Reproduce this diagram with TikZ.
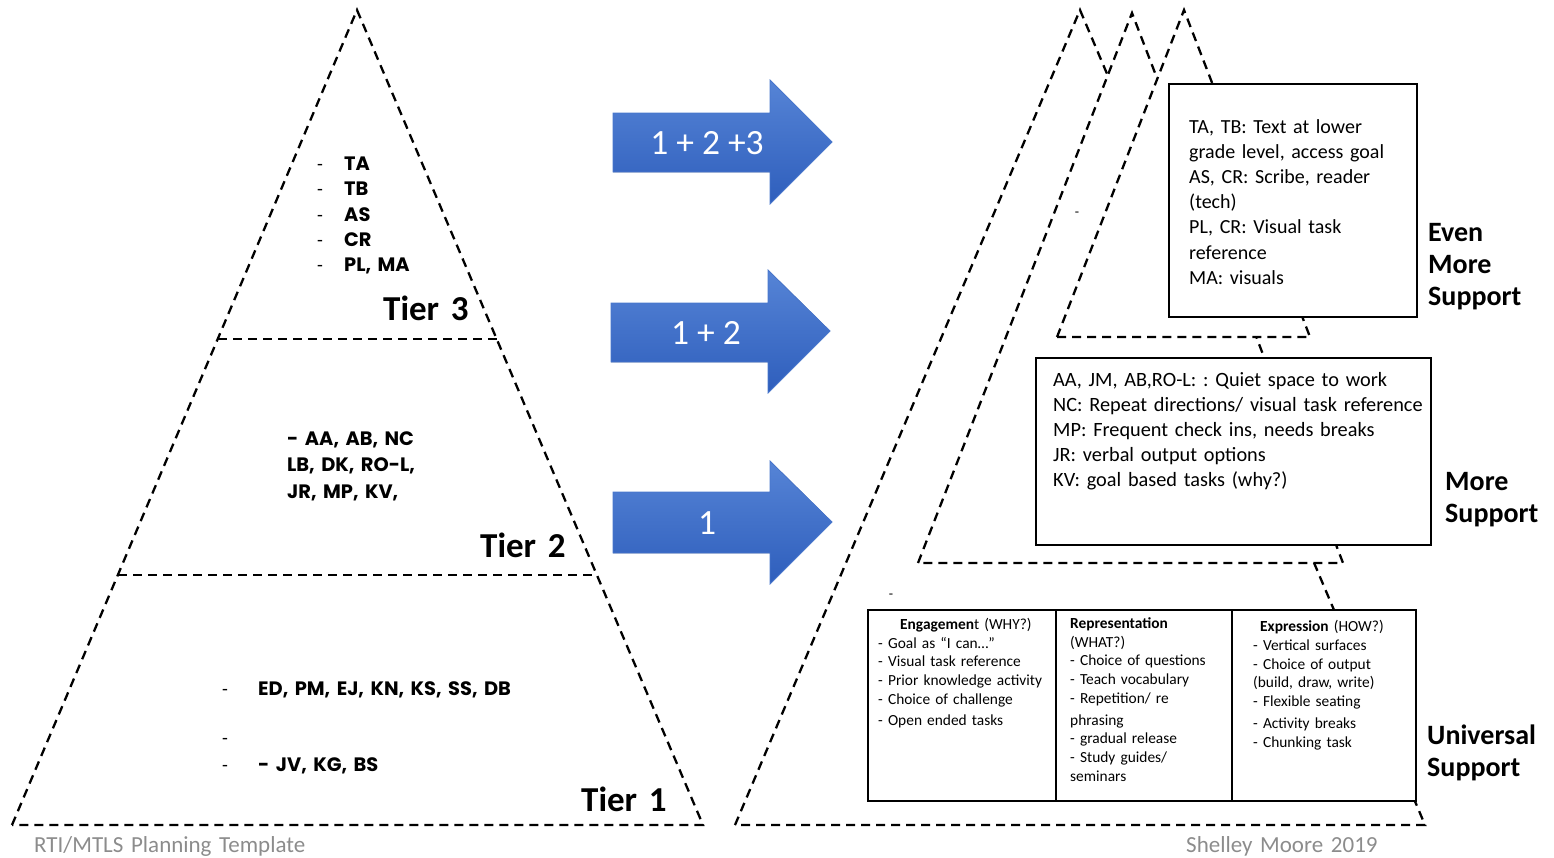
\documentclass[tikz,border=0pt]{standalone}
\usepackage{fontspec}
\setmainfont{Carlito}
\newfontfamily\namefont{Poppins}
\definecolor{arrowtop}{RGB}{86,132,214}
\definecolor{arrowbot}{RGB}{46,94,188}
\definecolor{arrowedge}{RGB}{72,118,204}
\definecolor{footgray}{RGB}{140,140,140}

\begin{document}
\frenchspacing
\begin{tikzpicture}[x=1pt,y=-1pt,
  dashline/.style={line width=2.3pt, dash pattern=on 9pt off 6pt},
  tri/.style={dashline, fill=white},
  panel/.style={draw, line width=2.4pt, fill=white},
  blockarrow/.style={top color=arrowtop, bottom color=arrowbot, draw=arrowedge, line width=0.8pt},
  arrowtext/.style={text=white, inner sep=0, font=\fontsize{35.5}{40}\selectfont},
  txt/.style={anchor=base west, inner sep=0, text width=#1, align=left},
  txt/.default=400pt,
  names/.style={txt=300pt, font=\namefont\bfseries\fontsize{19.4}{25.3}\selectfont},
  bullets/.style={txt=20pt, font=\fontsize{19}{25.3}\selectfont},
  tierlabel/.style={txt=120pt, font=\bfseries\fontsize{35}{40}\selectfont},
  sidelabel/.style={txt=140pt, font=\bfseries\fontsize{28}{32}\selectfont},
  boxtext/.style={txt=400pt, font=\fontsize{20}{25.2}\selectfont},
  celltext/.style={txt=190pt, font=\fontsize{15.4}{18.7}\selectfont},
  foot/.style={txt=350pt, text=footgray, font=\fontsize{23}{26}\selectfont},
]
\useasboundingbox (0,0) rectangle (1554,857);

% ---------- left pyramid: three tiers ----------
\coordinate (LA) at (357,10);
\coordinate (LL) at (12,825);
\coordinate (LR) at (703,825);
\draw[tri] (LL) -- (LA) -- (LR) -- cycle;
\draw[dashline] (218,339) -- (497,339);
\draw[dashline] (118,575) -- (597,575);

% tier 3 members
\node[bullets] (t3d) at (317,170.5) {-\\-\\-\\-\\-};
\node[names] (t3n) at (344,170.5) {TA\\TB\\AS\\CR\\PL, MA};
\node[tierlabel] (t3) at (383,320) {Tier 3};

% tier 2 members
\node[names, font=\namefont\bfseries\fontsize{19.4}{26.5}\selectfont] (t2n) at (287,445) {- AA, AB, NC\\LB, DK, RO-L,\\JR, MP, KV,};
\node[tierlabel] (t2) at (480,557) {Tier 2};

% tier 1 members
\node[bullets] (t1d1) at (222,695) {-};
\node[names] (t1n1) at (258,695) {ED, PM, EJ, KN, KS, SS, DB};
\node[bullets] (t1d2) at (222,744) {-};
\node[bullets] (t1d3) at (222,771) {-};
\node[names] (t1n2) at (258,771) {- JV, KG, BS};
\node[tierlabel] (t1) at (581,811) {Tier 1};

% ---------- block arrows ----------
\filldraw[blockarrow] (613,113) -- (770,113) -- (770,80) -- (832,142) -- (770,204) -- (770,172) -- (613,172) -- cycle;
\node[arrowtext] (a3) at (707,143) {1 + 2 +3};
\filldraw[blockarrow] (611,303) -- (768,303) -- (768,270) -- (830,331) -- (768,393) -- (768,362) -- (611,362) -- cycle;
\node[arrowtext] (a2) at (706,333) {1 + 2};
\filldraw[blockarrow] (613,492) -- (770,492) -- (770,461) -- (832,522) -- (770,584) -- (770,553) -- (613,553) -- cycle;
\node[arrowtext] (a1) at (707,523) {1};

% ---------- right side: overlapping peaks ----------
\draw[tri] (735,825) -- (1080,10) -- (1425,825) -- cycle;
\draw[tri] (918,563) -- (1132,13) -- (1343,563) -- cycle;
\draw[tri] (1057,337) -- (1184,10) -- (1310,337) -- cycle;
\node[font=\fontsize{14}{16}\selectfont, inner sep=0] (stray1) at (1077,214) {-};

% even more support
\node[panel, minimum width=248pt, minimum height=233pt, anchor=north west] (b3) at (1168,83) {};
\node[boxtext] (b3t) at (1189,133) {TA, TB: Text at lower\\grade level, access goal\\AS, CR: Scribe, reader\\(tech)\\PL, CR: Visual task\\reference\\MA: visuals};
\node[sidelabel] (l3) at (1428,241.5) {Even\\More\\Support};

% more support
\node[panel, minimum width=395pt, minimum height=187pt, anchor=north west] (b2) at (1035,357) {};
\node[boxtext, font=\fontsize{20.3}{25}\selectfont] (b2t) at (1053,386) {AA, JM, AB,RO-L: : Quiet space to work\\NC: Repeat directions/ visual task reference\\MP: Frequent check ins, needs breaks\\JR: verbal output options\\KV: goal based tasks (why?)};
\node[sidelabel] (l2) at (1445,490) {More\\Support};

% universal support
\node[font=\fontsize{14}{16}\selectfont, inner sep=0] (stray2) at (891,596) {-};
\node[panel, minimum width=548pt, minimum height=191pt, anchor=north west] (b1) at (867,609) {};
\draw[line width=2.4pt] (1056,609) -- (1056,800);
\draw[line width=2.4pt] (1232,609) -- (1232,800);
\node[celltext] (eng) at (900,629.5) {\textbf{Engagemen}t (WHY?)};
\node[celltext] (engl) at (878,648) {- Goal as “I can…”\\- Visual task reference\\- Prior knowledge activity\\- Choice of challenge\\[3pt]- Open ended tasks};
\node[celltext] (rep) at (1070,628.5) {\textbf{Representation}\\(WHAT?)\\- Choice of questions\\- Teach vocabulary\\- Repetition/ re\\[3pt]phrasing\\- gradual release\\- Study guides/\\seminars};
\node[celltext] (exp) at (1260,631.5) {\textbf{Expression} (HOW?)};
\node[celltext] (expl) at (1253,650.5) {- Vertical surfaces\\- Choice of output\\(build, draw, write)\\- Flexible seating\\[3pt]- Activity breaks\\- Chunking task};
\node[sidelabel] (l1) at (1427,744) {Universal\\Support};

% ---------- footer ----------
\node[foot] (f1) at (34,852) {RTI/MTLS Planning Template};
\node[foot] (f2) at (1186,852) {Shelley Moore 2019};
\end{tikzpicture}
\end{document}
